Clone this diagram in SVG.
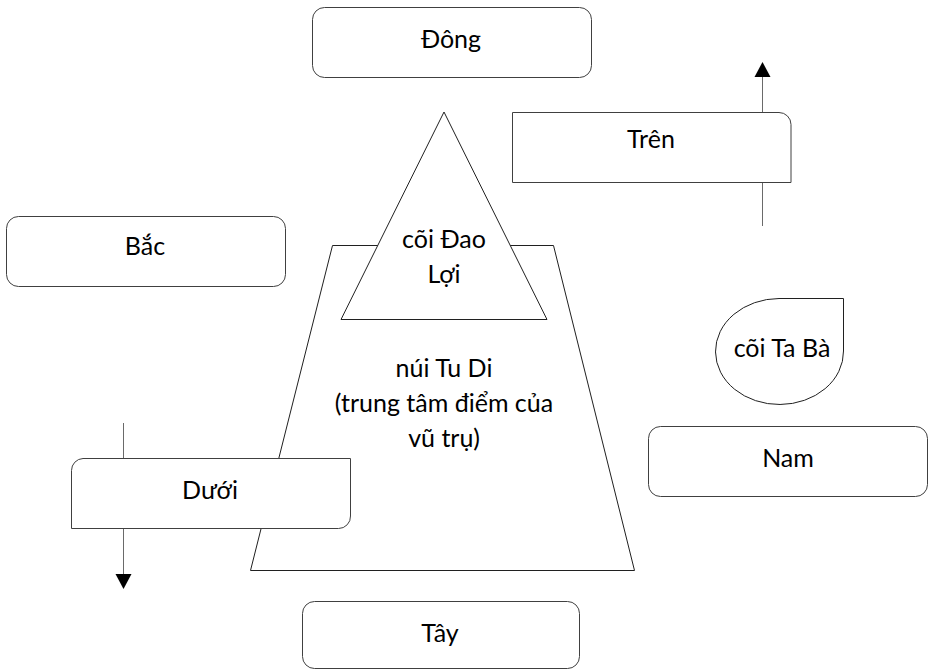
<svg xmlns="http://www.w3.org/2000/svg" width="929" height="670" viewBox="0 0 929 670">
<style>
.box{fill:#fff;stroke:#404040;stroke-width:1}
.shape{fill:#fff;stroke:#202020;stroke-width:1}
.conn{stroke:#6a6a6a;stroke-width:1;fill:none}
.head{fill:#000}
text{font-family:Lato,"Open Sans","Liberation Sans",sans-serif;font-size:25px;fill:#000;text-anchor:middle}
</style>
<rect width="929" height="670" fill="#fff"/>
<g id="connectors">
  <line class="conn" x1="762.5" y1="226" x2="762.5" y2="76"/>
  <polygon class="head" points="762.5,62 754.5,77 770.5,77"/>
  <line class="conn" x1="123.5" y1="423" x2="123.5" y2="575"/>
  <polygon class="head" points="115.5,574 131.5,574 123.5,589"/>
</g>
<g id="dong">
  <rect class="box" x="312.5" y="7.5" width="279" height="70" rx="12"/>
  <text x="451" y="48">Đông</text>
</g>
<g id="tren">
  <path class="box" d="M512.5,112.5 H779 A12,12 0 0 1 791,124.5 V182.5 H512.5 Z"/>
  <text x="651" y="148">Trên</text>
</g>
<g id="bac">
  <rect class="box" x="6.5" y="216.5" width="279" height="70" rx="12"/>
  <text x="145" y="255">Bắc</text>
</g>
<g id="nui-tu-di">
  <polygon class="shape" points="332.5,245.5 553.5,245.5 634.5,570.5 250.5,570.5"/>
  <text x="444" y="377">núi Tu Di</text>
  <text x="444" y="412">(trung tâm điểm của</text>
  <text x="444" y="447">vũ trụ)</text>
</g>
<g id="coi-dao-loi">
  <polygon class="shape" points="444,112 547,319.5 341,319.5"/>
  <text x="444" y="248">cõi Đao</text>
  <text x="444" y="283">Lợi</text>
</g>
<g id="coi-ta-ba">
  <path class="shape" d="M843.5,298.5 L779,298.5 A64,53 0 1 0 843.5,351 Z"/>
  <text x="782" y="357">cõi Ta Bà</text>
</g>
<g id="nam">
  <rect class="box" x="648.5" y="426.5" width="279" height="70" rx="12"/>
  <text x="788" y="467">Nam</text>
</g>
<g id="duoi">
  <path class="box" d="M83,458.5 H350.5 V516 A12,12 0 0 1 338.5,528.5 H71.5 V470.5 A12,12 0 0 1 83,458.5 Z"/>
  <text x="210" y="499">Dưới</text>
</g>
<g id="tay">
  <rect class="box" x="302.5" y="601.5" width="277" height="67" rx="12"/>
  <text x="440" y="642">Tây</text>
</g>
</svg>
